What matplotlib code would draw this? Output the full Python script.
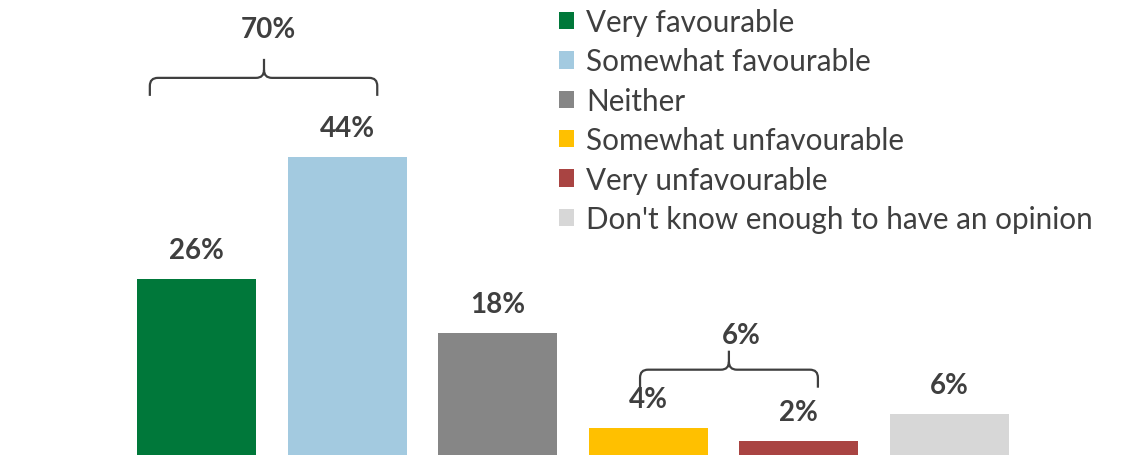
import matplotlib
matplotlib.use("Agg")
import matplotlib.pyplot as plt
from matplotlib.path import Path
from matplotlib.patches import PathPatch

categories = ["Very favourable", "Somewhat favourable", "Neither",
              "Somewhat unfavourable", "Very unfavourable",
              "Don't know enough to have an opinion"]
values = [26, 44, 18, 4, 2, 6]
labels = ["26%", "44%", "18%", "4%", "2%", "6%"]
colors = ["#00783A", "#A3CAE0", "#868686", "#FFC000", "#A94442", "#D7D7D7"]
group_labels = ["70%", "6%"]
group_spans = [(0, 1), (3, 4)]

TEXT = "#3F3F3F"
plt.rcParams['font.family'] = ['Lato', 'DejaVu Sans']

fig = plt.figure(figsize=(11.31, 4.56), dpi=100)
ax = fig.add_axes([0, 0, 1, 1])
ax.set_xlim(-1.305, 6.205)
ax.set_ylim(0, 67.35)
ax.axis("off")

xs = list(range(len(values)))
for x, v, c, cat, lab in zip(xs, values, colors, categories, labels):
    ax.bar(x, v, width=0.79, color=c, label=cat)
    ax.annotate(lab, (x, v), xytext=(0, 29), textcoords="offset pixels",
                ha="center", va="center", fontsize=20, fontweight="bold",
                color=TEXT)

# braces (pixel-based geometry offsets around data anchor points)
px_x = 1 / 150.6
px_y = 1 / 6.77
brace_geo = [
    # left, right, tip x, y of horizontal line, label dx px, label dy px
    (-0.31, 1.20, 0.448, 55.7, 4, 49),
    (2.945, 4.126, 3.535, 12.6, 12, 35),
]
for (l, r, t, yh, ldx, ldy), glab in zip(brace_geo, group_labels):
    rx, ry = 8 * px_x, 8 * px_y
    drop = 18 * px_y
    rise = 19 * px_y
    verts = [
        (l, yh - drop), (l, yh - ry), (l, yh), (l + rx, yh),
        (t - rx, yh), (t, yh), (t, yh + ry), (t, yh + rise),
        (t, yh + ry), (t, yh), (t + rx, yh),
        (r - rx, yh), (r, yh), (r, yh - ry), (r, yh - drop),
    ]
    codes = [Path.MOVETO, Path.LINETO, Path.CURVE3, Path.CURVE3,
             Path.LINETO, Path.CURVE3, Path.CURVE3, Path.LINETO,
             Path.MOVETO, Path.CURVE3, Path.CURVE3,
             Path.LINETO, Path.CURVE3, Path.CURVE3, Path.LINETO]
    ax.add_patch(PathPatch(Path(verts, codes), fill=False, edgecolor=TEXT,
                           lw=1.6, capstyle="butt"))
    ax.text(t + ldx * px_x, yh + ldy * px_y, glab, ha="center", va="center",
            fontsize=20, fontweight="bold", color=TEXT)

leg = ax.legend(loc="upper left", bbox_to_anchor=(559 / 1131, 1 - 9 / 456),
                frameon=False, fontsize=21.3, handlelength=0.52,
                handleheight=0.52, handletextpad=0.4, labelspacing=0.385,
                borderaxespad=0, borderpad=0)
for t in leg.get_texts():
    t.set_color(TEXT)

fig.savefig("out.png", dpi=100)
